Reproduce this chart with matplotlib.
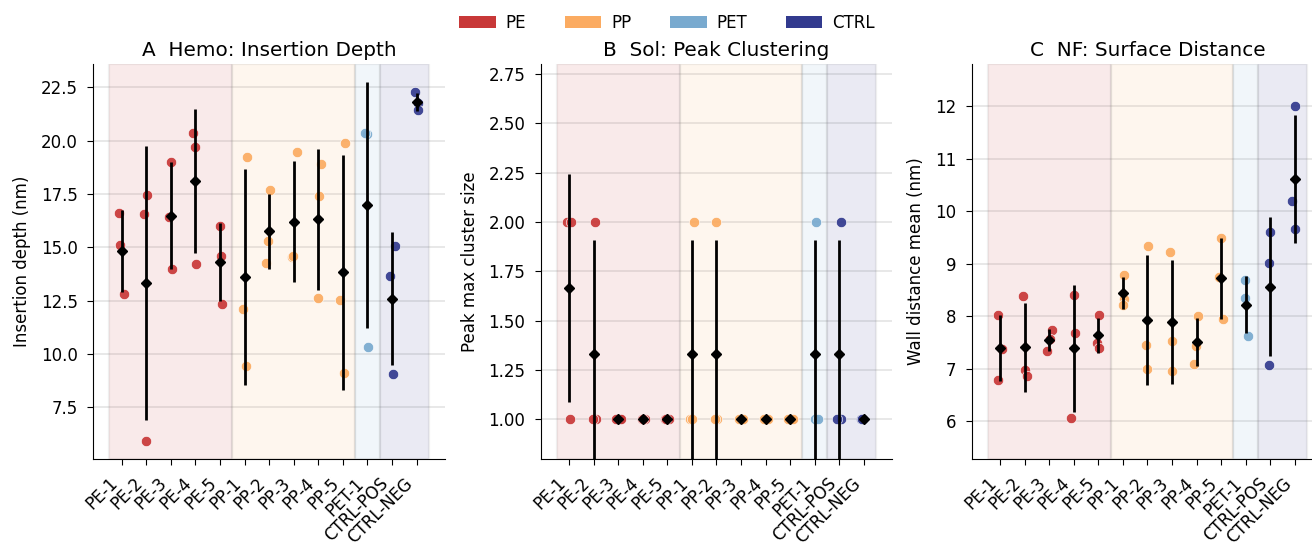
"""
Three-panel strip plot: per-sample replicate values with mean +/- SD,
grouped by polymer class (PE, PP, PET, controls).
"""

import numpy as np
import matplotlib
matplotlib.use("Agg")
import matplotlib.pyplot as plt
from matplotlib.patches import Patch

samples = ["PE-1", "PE-2", "PE-3", "PE-4", "PE-5",
	"PP-1", "PP-2", "PP-3", "PP-4", "PP-5",
	"PET-1", "CTRL-POS", "CTRL-NEG"]
groups = ["PE"] * 5 + ["PP"] * 5 + ["PET"] + ["CTRL"] * 2
group_names = ["PE", "PP", "PET", "CTRL"]
group_colors = {"PE": "#c83838", "PP": "#fbab61", "PET": "#79aacf",
	"CTRL": "#323a8e"}

# three replicates per sample
insertion_depth = [
	[16.61, 15.13, 12.80], [17.45, 16.57, 5.91], [19.01, 16.44, 14.01],
	[20.37, 19.71, 14.24], [16.00, 14.62, 12.34],
	[19.23, 12.13, 9.46], [17.70, 15.29, 14.26], [19.48, 14.54, 14.61],
	[18.90, 17.42, 12.61], [19.88, 12.55, 9.10],
	[20.30, 20.36, 10.35], [15.07, 13.67, 9.07], [22.27, 21.77, 21.43]]
peak_cluster = [
	[2, 2, 1], [2, 1, 1], [1, 1, 1], [1, 1, 1], [1, 1, 1],
	[2, 1, 1], [2, 1, 1], [1, 1, 1], [1, 1, 1], [1, 1, 1],
	[2, 1, 1], [2, 1, 1], [1, 1, 1]]
wall_distance = [
	[8.03, 7.37, 6.79], [8.39, 6.97, 6.86], [7.74, 7.56, 7.33],
	[8.41, 7.69, 6.06], [8.02, 7.49, 7.40],
	[8.78, 8.33, 8.22], [9.34, 7.46, 7.00], [9.22, 7.52, 6.95],
	[8.01, 7.43, 7.10], [9.49, 8.75, 7.94],
	[8.69, 8.35, 7.62], [9.60, 9.02, 7.08], [12.00, 10.19, 9.67]]

panel_titles = ["A  Hemo: Insertion Depth", "B  Sol: Peak Clustering",
	"C  NF: Surface Distance"]
panel_ylabels = ["Insertion depth (nm)", "Peak max cluster size",
	"Wall distance mean (nm)"]
panel_ylims = [(5.08, 23.6), (0.80, 2.80), (5.28, 12.81)]

plt.rcParams["font.size"] = 12


def shade_groups(ax):
	x = np.arange(len(samples))
	for g in group_names:
		idx = x[[gg == g for gg in groups]]
		ax.axvspan(idx.min() - 0.5, idx.max() + 0.5,
			facecolor = matplotlib.colors.to_rgba(group_colors[g], 0.1),
			edgecolor = (0.45, 0.45, 0.45, 0.11), linewidth = 1.6,
			zorder = 0.6)


def plot_panel(ax, values, rng):
	shade_groups(ax)
	for i, vals in enumerate(values):
		c = group_colors[groups[i]]
		jit = rng.uniform(-0.13, 0.13, len(vals))
		ax.scatter(i + jit, vals, s = 56, color = c, alpha = 0.92,
			edgecolor = "white", linewidth = 0.5, zorder = 3)
		m = np.mean(vals)
		sd = np.std(vals, ddof = 1)
		ax.errorbar(i, m, yerr = sd, fmt = "D", color = "black",
			markersize = 5, elinewidth = 2, capsize = 0, zorder = 4)


def setup_axes(ax, k):
	ax.set_xlim(-1.15, 13.15)
	ax.set_ylim(*panel_ylims[k])
	ax.set_xticks(range(len(samples)))
	ax.set_xticklabels(samples, rotation = 45, ha = "right")
	ax.set_ylabel(panel_ylabels[k], labelpad = 7)
	ax.set_title(panel_titles[k], fontsize = 14.4)
	ax.grid(axis = "y", color = "#e6e6e6", linewidth = 1.3, zorder = 0.5)
	ax.set_axisbelow(True)
	for s in ["top", "right"]:
		ax.spines[s].set_visible(False)
	ax.tick_params(length = 4.5, pad = 6.5)


def main():
	fig = plt.figure(figsize = (13.12, 5.42), dpi = 100)
	lefts = [93.4, 540.7, 971.7]
	rng = np.random.default_rng(3)
	data = [insertion_depth, peak_cluster, wall_distance]
	for k in range(3):
		ax = fig.add_axes([lefts[k] / 1312, 83 / 542, 351.5 / 1312,
			395 / 542])
		plot_panel(ax, data[k], rng)
		setup_axes(ax, k)
	handles = [Patch(facecolor = group_colors[g], edgecolor = "none",
		label = g) for g in group_names]
	fig.legend(handles = handles, loc = "center", ncol = 4,
		bbox_to_anchor = (667 / 1312, 1 - 23 / 542), frameon = False,
		handlelength = 2.2, handletextpad = 0.6, columnspacing = 2.3)
	fig.savefig("out.png", dpi = 100)


if __name__ == "__main__":
	main()
